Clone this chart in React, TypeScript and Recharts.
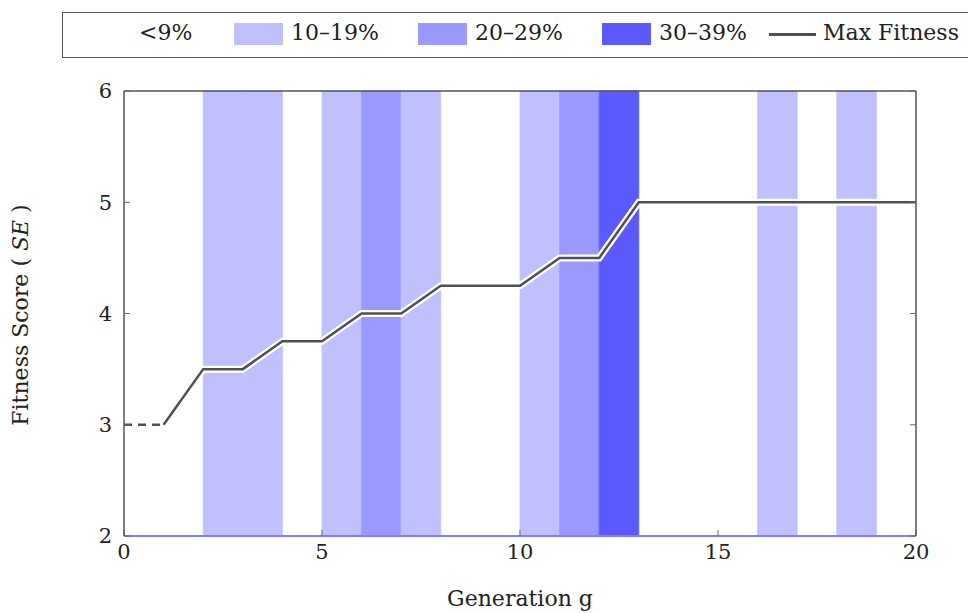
import React from 'react';
import { ComposedChart, Line, XAxis, YAxis, ReferenceArea } from 'recharts';

// diversity level for each generation interval [g, g+1]
const bandStart = [0, 1, 2, 3, 4, 5, 6, 7, 8, 9, 10, 11, 12, 13, 14, 15, 16, 17, 18, 19];
const bandLevel = [0, 0, 1, 1, 0, 1, 2, 1, 0, 0, 1, 2, 3, 0, 0, 0, 1, 0, 1, 0];
const levelLabels = ['<9%', '10–19%', '20–29%', '30–39%'];
const levelColors = ['#ffffff', '#c0c0ff', '#9999ff', '#5a5aff'];

const fitnessGen = [1, 2, 3, 4, 5, 6, 7, 8, 10, 11, 12, 13, 20];
const fitnessMax = [3, 3.5, 3.5, 3.75, 3.75, 4, 4, 4.25, 4.25, 4.5, 4.5, 5, 5];
const startGen = [0, 1];
const startFitness = [3, 3];

const xTicks = [0, 5, 10, 15, 20];
const yTicks = [2, 3, 4, 5, 6];

const fitnessData = fitnessGen.map((g, i) => ({ g, f: fitnessMax[i] }));
const startData = startGen.map((g, i) => ({ g, f: startFitness[i] }));

const FONT = '"DejaVu Serif", serif';
const tickStyle = { fontSize: 21, fill: '#222', fontFamily: FONT };

const legendPos = [
  { swatch: 81, text: 138 },
  { swatch: 233, text: 290 },
  { swatch: 417, text: 474 },
  { swatch: 601, text: 658 },
];

const Legend = () => (
  <div style={{ position: 'absolute', left: 62, top: 12, width: 940, height: 46, border: '1.5px solid #555', boxSizing: 'border-box', background: '#fff' }}>
    {levelLabels.map((label, i) => (
      <React.Fragment key={label}>
        <div style={{ position: 'absolute', left: legendPos[i].swatch - 62, top: 10, width: 49, height: 22, background: levelColors[i] }} />
        <div style={{ position: 'absolute', left: legendPos[i].text - 62, top: 7, fontSize: 22, color: '#222', whiteSpace: 'nowrap' }}>{label}</div>
      </React.Fragment>
    ))}
    <div style={{ position: 'absolute', left: 768 - 62, top: 20, width: 47, height: 2.5, background: '#505050' }} />
    <div style={{ position: 'absolute', left: 822 - 62, top: 7, fontSize: 22, color: '#222', whiteSpace: 'nowrap' }}>Max Fitness</div>
  </div>
);

const YLabel = () => (
  <text x={22} y={315} transform="rotate(-90 22 315)" textAnchor="middle" dominantBaseline="middle" fontSize={22} fill="#222" fontFamily={FONT}>
    Fitness Score ( <tspan fontStyle="italic">SE</tspan> )
  </text>
);

const XLabel = () => (
  <text x={520} y={600} textAnchor="middle" dominantBaseline="middle" fontSize={22} fill="#222" fontFamily={FONT}>
    Generation g
  </text>
);

export default function App() {
  return (
    <div style={{ position: 'absolute', left: 0, top: 0, width: 968, height: 613, overflow: 'hidden', background: '#fff', fontFamily: FONT }}>
      <ComposedChart width={968} height={613} margin={{ top: 0, right: 0, bottom: 0, left: 0 }}>
        <XAxis
          type="number"
          dataKey="g"
          domain={[0, 20]}
          ticks={xTicks}
          height={77}
          allowDataOverflow
          axisLine={{ stroke: '#7f7fff', strokeWidth: 2 }}
          tickLine={{ stroke: '#666' }}
          tickSize={-6}
          tickMargin={14}
          tick={tickStyle}
          label={<XLabel />}
        />
        <XAxis
          xAxisId="top"
          orientation="top"
          type="number"
          domain={[0, 20]}
          ticks={xTicks}
          height={91}
          allowDataOverflow
          axisLine={{ stroke: '#555', strokeWidth: 1.5 }}
          tickLine={{ stroke: '#666' }}
          tickSize={-6}
          tickFormatter={() => ''}
        />
        <YAxis
          type="number"
          domain={[2, 6]}
          ticks={yTicks}
          width={124}
          allowDataOverflow
          axisLine={{ stroke: '#555', strokeWidth: 1.5 }}
          tickLine={{ stroke: '#666' }}
          tickSize={-6}
          tickMargin={18}
          tick={tickStyle}
          label={<YLabel />}
        />
        <YAxis
          yAxisId="right"
          orientation="right"
          type="number"
          domain={[2, 6]}
          ticks={yTicks}
          width={52}
          allowDataOverflow
          axisLine={{ stroke: '#555', strokeWidth: 1.5 }}
          tickLine={{ stroke: '#666' }}
          tickSize={-6}
          tickFormatter={() => ''}
        />
        {bandStart.map((g, i) =>
          bandLevel[i] > 0 ? (
            <ReferenceArea
              key={g}
              x1={g}
              x2={g + 1}
              y1={2}
              y2={6}
              fill={levelColors[bandLevel[i]]}
              fillOpacity={1}
              stroke={levelColors[bandLevel[i]]}
              strokeWidth={0.8}
            />
          ) : null
        )}
        <Line data={fitnessData} dataKey="f" type="linear" stroke="#ffffff" strokeWidth={7} dot={false} activeDot={false} isAnimationActive={false} />
        <Line data={fitnessData} dataKey="f" type="linear" stroke="#505050" strokeWidth={2.5} dot={false} activeDot={false} isAnimationActive={false} />
        <Line data={startData} dataKey="f" type="linear" stroke="#505050" strokeWidth={2.5} strokeDasharray="8 6" dot={false} activeDot={false} isAnimationActive={false} />
      </ComposedChart>
      <Legend />
    </div>
  );
}
